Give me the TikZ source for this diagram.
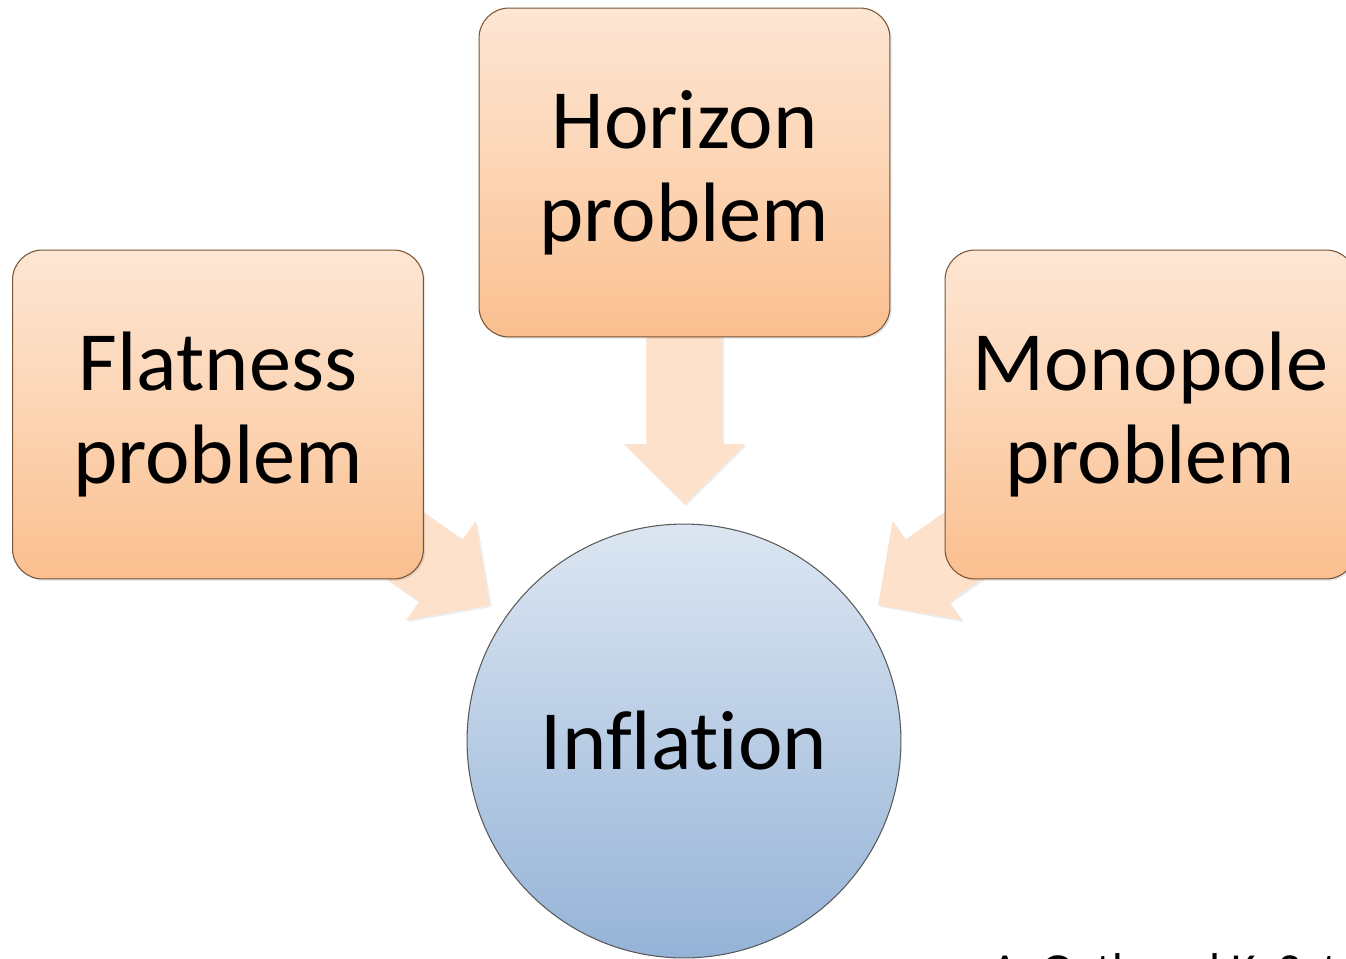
\documentclass[tikz,border=0pt]{standalone}
\usepackage{fontspec}
\setmainfont{Carlito}[Ligatures=NoCommon]
\usetikzlibrary{positioning,calc,shadows,backgrounds}
\definecolor{peachtop}{HTML}{FDE6D4}
\definecolor{peachmid}{HTML}{FCD4B3}
\definecolor{peachbot}{HTML}{FABF8F}
\definecolor{peachedge}{HTML}{7A5535}
\definecolor{arrowfill}{HTML}{FDE1CB}
\definecolor{bluetop}{HTML}{DCE6F2}
\definecolor{bluebot}{HTML}{95B3D7}
\tikzset{
  problem/.style={draw=peachedge, line width=.6pt, rounded corners=.6cm,
    minimum width=8.22cm, minimum height=6.58cm, inner sep=0pt,
    top color=peachtop, bottom color=peachbot, middle color=peachmid,
    align=center, font=\fontsize{48}{53}\selectfont,
    drop shadow={opacity=.2, shadow xshift=1pt, shadow yshift=-1pt}},
  goal/.style={circle, draw=black!65, line width=.6pt, minimum size=8.68cm,
    inner sep=0pt, top color=bluetop, bottom color=bluebot,
    font=\fontsize{48}{53}\selectfont},
  blockarrow/.style={fill=arrowfill,
    drop shadow={opacity=.15, shadow xshift=1pt, shadow yshift=-1pt}},
  credit/.style={font=\fontsize{27}{30}\selectfont, inner sep=0pt}
}

\begin{document}
\begin{tikzpicture}[x=0.02cm,y=0.02cm]
\useasboundingbox (0,0) rectangle (1346,958);
\clip (0,0) rectangle (1346,958);
\node[problem] (horizon) at (684.5,785.5) {Horizon\\problem};
\node[problem] (flat) at (218,543.5) {Flatness\\problem};
\node[problem] (monopole) at (1150.5,543.5) {Monopole\\problem};
\node[goal] (inflation) at (684,217) {Inflation};
\node[credit, anchor=base west] (credit) at (991,-28) {A. Guth and K. Sato};
% fat arrows from each problem into the circle
\begin{scope}[on background layer]
\foreach \src in {flat,horizon,monopole}{
  \coordinate (tip) at ($(inflation.center)!4.74cm!(\src.center)$);
  \coordinate (hb) at ($(tip)!1.2cm!(\src.center)$);
  \coordinate (tail) at ($(tip)!3.6cm!(\src.center)$);
  \fill[blockarrow] ($(hb)!1.21cm!90:(tip)$) -- (tip) -- ($(hb)!1.21cm!-90:(tip)$)
    -- ($(hb)!.76cm!-90:(tip)$) -- ($(tail)!.76cm!-90:(tip)$)
    -- ($(tail)!.76cm!90:(tip)$) -- ($(hb)!.76cm!90:(tip)$) -- cycle;
}
\end{scope}
\end{tikzpicture}
\end{document}
